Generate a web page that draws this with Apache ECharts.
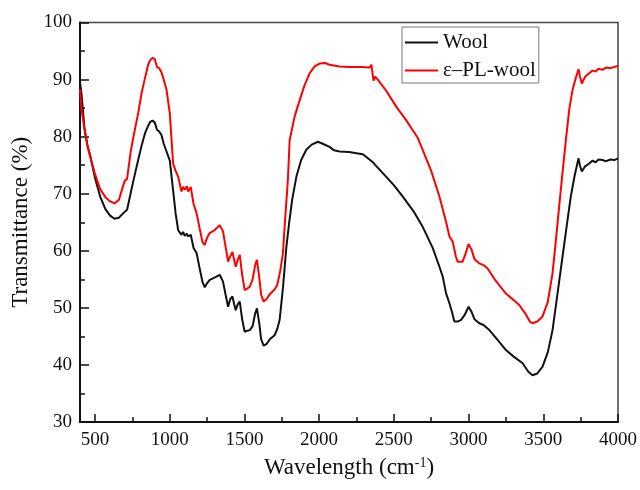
<!DOCTYPE html>
<html>
<head>
<meta charset="utf-8">
<script src="https://cdn.jsdelivr.net/npm/echarts@6/dist/echarts.min.js"></script>
<style>html,body{margin:0;padding:0;background:#fff}#c{width:640px;height:490px}</style>
</head>
<body>
<div id="c"></div>
<script>
var xMajorTicks = [500, 1000, 1500, 2000, 2500, 3000, 3500, 4000];
var xMinorTicks = [750, 1250, 1750, 2250, 2750, 3250, 3750];

var woolWn = [400,410,430,450,470,500,535,570,600,630,660,690,715,740,760,790,812,835,856,870,885,900,915,930,945,960,979,1001,1023,1040,1057,1079,1090,1101,1115,1124,1141,1160,1180,1200,1220,1235,1250,1268,1300,1335,1357,1375,1391,1405,1420,1432,1442,1455,1469,1485,1502,1520,1536,1555,1572,1584,1600,1612,1629,1650,1670,1702,1720,1736,1758,1781,1800,1820,1848,1880,1914,1950,1992,2020,2070,2100,2137,2200,2250,2293,2360,2426,2500,2560,2630,2693,2760,2805,2827,2850,2872,2890,2905,2927,2950,2975,3000,3020,3040,3072,3100,3139,3200,3250,3300,3362,3400,3428,3460,3495,3530,3562,3590,3629,3655,3684,3710,3736,3745,3758,3780,3807,3830,3850,3870,3896,3920,3950,3975,4000];
var woolT = [89.5,87.5,81.5,78.5,76.5,72.8,69.5,67.3,66.2,65.6,65.8,66.6,67.2,70.2,72.6,76.0,78.4,80.6,81.9,82.6,82.8,82.5,81.2,80.9,80.3,78.8,77.4,75.8,70.6,66.5,63.6,62.8,63.3,62.6,63.0,62.5,62.8,60.5,59.6,57.0,54.5,53.6,54.3,54.9,55.3,55.8,54.6,52.2,50.2,51.5,52.0,50.6,49.6,50.6,51.1,48.0,45.8,46.0,46.1,46.8,49.0,49.9,47.2,44.5,43.4,43.7,44.5,45.2,46.3,47.9,53.5,60.7,65.0,69.0,73.0,75.9,77.7,78.6,79.1,78.8,78.2,77.6,77.4,77.3,77.1,76.9,75.5,73.6,71.5,69.5,67.0,64.2,60.5,57.2,55.5,52.5,50.8,49.2,47.6,47.6,47.9,48.8,50.2,49.3,48.0,47.3,47.0,46.1,44.2,42.6,41.5,40.3,38.8,38.2,38.5,39.7,42.2,46.1,51.5,59.0,64.0,69.5,73.2,76.2,75.0,73.9,74.8,75.3,75.8,75.5,76.0,75.9,75.7,76.0,75.9,76.2];

var plWn = [400,410,430,450,470,500,535,570,600,630,660,690,700,715,740,760,790,812,835,856,870,885,900,915,930,945,960,979,1001,1023,1040,1057,1079,1090,1101,1115,1124,1141,1160,1180,1200,1220,1235,1250,1268,1300,1335,1357,1375,1391,1405,1420,1432,1442,1455,1469,1485,1502,1520,1536,1555,1572,1584,1600,1612,1629,1650,1670,1702,1720,1740,1758,1775,1791,1803,1836,1870,1900,1936,1970,2003,2040,2070,2137,2204,2280,2337,2350,2358,2364,2375,2393,2450,2515,2582,2660,2693,2750,2805,2850,2872,2894,2915,2927,2960,2980,3000,3020,3040,3072,3100,3128,3180,3250,3300,3339,3380,3410,3428,3460,3495,3530,3562,3585,3606,3630,3651,3675,3696,3720,3736,3745,3758,3780,3807,3830,3850,3870,3896,3920,3950,3975,4000];
var plT = [88.3,84.8,81.3,78.3,76.3,73.5,70.8,69.4,68.7,68.3,68.9,71.5,72.3,72.6,77.5,80.3,84.2,87.6,90.3,92.6,93.4,93.8,93.6,92.2,92.0,91.3,90.0,88.2,84.1,75.3,74.0,73.0,70.4,71.2,70.7,71.3,70.4,71.2,68.2,66.6,64.0,61.5,61.0,62.3,63.1,63.6,64.5,63.4,60.6,58.1,59.0,59.8,58.4,57.2,58.4,59.3,55.8,53.1,53.4,53.7,55.0,57.5,58.4,55.2,52.3,51.1,51.6,52.4,53.2,54.0,56.5,59.6,66.5,72.4,79.4,83.5,86.4,88.8,91.1,92.3,92.8,92.9,92.6,92.3,92.2,92.2,92.1,92.6,91.0,89.8,90.5,90.0,88.0,85.3,82.9,79.8,77.7,74.0,69.5,65.0,62.5,61.6,59.0,58.1,58.1,59.5,61.2,60.2,58.5,57.8,57.5,56.9,54.8,52.5,51.4,50.5,49.0,47.6,47.3,47.6,48.5,51.0,56.1,62.0,67.7,74.0,79.4,85.0,88.2,90.5,91.8,90.6,89.3,90.5,91.1,91.6,91.4,91.9,91.7,92.1,92.0,92.2,92.4];

function pairs(xs, ys) { return xs.map(function (x, i) { return [x, ys[i]]; }); }
function plain(v) { return String(v); }

var font = 'Liberation Serif, Times New Roman, serif';
var chart = echarts.init(document.getElementById('c'));
chart.setOption({
  animation: false,
  backgroundColor: '#fff',
  grid: { left: 80, right: 21, top: 22.5, bottom: 68, show: true, borderColor: '#444', borderWidth: 1.5 },
  legend: {
    orient: 'vertical', left: 402, top: 27,
    padding: [5, 3, 2, 3], itemWidth: 33, itemHeight: 2, itemGap: 7,
    borderColor: '#777', borderWidth: 1,
    textStyle: { fontFamily: font, fontSize: 21, color: '#111' },
    data: [{ name: 'Wool', icon: 'rect' }, { name: 'ε–PL-wool', icon: 'rect' }]
  },
  xAxis: [{
    type: 'value', min: 400, max: 4000, position: 'bottom',
    name: 'Wavelength (cm{sup|-1})', nameLocation: 'middle', nameGap: 34,
    nameTextStyle: { fontFamily: font, fontSize: 23, color: '#111',
      rich: { sup: { fontFamily: font, fontSize: 14, color: '#111', verticalAlign: 'top', padding: [0, 0, 10, 0] } } },
    axisLine: { show: true, onZero: false, lineStyle: { color: '#111', width: 2 } },
    axisTick: { show: true, inside: true, length: 8, customValues: xMajorTicks, lineStyle: { color: '#111', width: 1.5 } },
    axisLabel: { customValues: xMajorTicks, formatter: plain, margin: 9, fontFamily: font, fontSize: 19, color: '#111' },
    splitLine: { show: false }
  }, {
    type: 'value', min: 400, max: 4000, position: 'bottom',
    axisLine: { show: false },
    axisTick: { show: true, inside: true, length: 5, customValues: xMinorTicks, lineStyle: { color: '#111', width: 1.5 } },
    axisLabel: { show: false },
    splitLine: { show: false }
  }],
  yAxis: {
    type: 'value', min: 30, max: 100, interval: 10,
    name: 'Transmittance (%)', nameLocation: 'middle', nameGap: 46,
    nameTextStyle: { fontFamily: font, fontSize: 23, color: '#111' },
    axisLine: { show: true, onZero: false, lineStyle: { color: '#111', width: 2 } },
    axisTick: { show: true, inside: true, length: 9, lineStyle: { color: '#111', width: 1.5 } },
    minorTick: { show: true, splitNumber: 2, length: 5, lineStyle: { color: '#111', width: 1.5 } },
    axisLabel: { margin: 8, fontFamily: font, fontSize: 19, color: '#111' },
    splitLine: { show: false }
  },
  series: [{
    name: 'Wool', type: 'line', showSymbol: false, symbol: 'none',
    data: pairs(woolWn, woolT), lineStyle: { color: '#111', width: 2 }, itemStyle: { color: '#111' }
  }, {
    name: 'ε–PL-wool', type: 'line', showSymbol: false, symbol: 'none',
    data: pairs(plWn, plT), lineStyle: { color: '#ff0000', width: 2 }, itemStyle: { color: '#ff0000' }
  }]
});
</script>
</body>
</html>
